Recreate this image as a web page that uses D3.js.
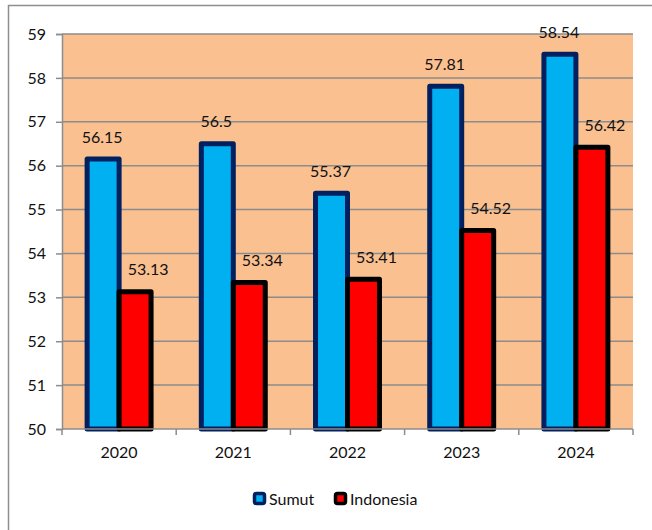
<!DOCTYPE html>
<html>
<head>
<meta charset="utf-8">
<script src="https://cdn.jsdelivr.net/npm/d3@7"></script>
<style>
  body { margin: 0; background: #fff; }
  svg { display: block; font-family: Lato, "Open Sans", sans-serif; }
</style>
</head>
<body>
<svg id="chart" width="652" height="530"></svg>
<script>
// data
var years = ["2020", "2021", "2022", "2023", "2024"];
var sumut = [56.15, 56.5, 55.37, 57.81, 58.54];
var indonesia = [53.13, 53.34, 53.41, 54.52, 56.42];
var seriesNames = ["Sumut", "Indonesia"];
var yTicks = [50, 51, 52, 53, 54, 55, 56, 57, 58, 59];

var fills = {Sumut: "#00b0f0", Indonesia: "#ff0000"};
var strokes = {Sumut: "#002060", Indonesia: "#000000"};
var labelDx = {Sumut: -1, Indonesia: 13};

var svg = d3.select("#chart");
var margin = {top: 34, left: 62, right: 19, bottom: 101};
var width = 652 - margin.left - margin.right;
var height = 530 - margin.top - margin.bottom;

// outer chart frame (runs off the right/bottom of the picture)
svg.append("rect")
  .attr("x", 8.5).attr("y", 5.5)
  .attr("width", 700).attr("height", 600)
  .attr("fill", "none")
  .attr("stroke", "#8e8e8e")
  .attr("stroke-width", 1.5);

var g = svg.append("g")
  .attr("transform", "translate(" + margin.left + "," + margin.top + ")");

var x = d3.scaleBand().domain(years).range([0, width]);
var x1 = d3.scaleBand().domain(seriesNames)
  .range([x.bandwidth() * 0.22, x.bandwidth() * 0.78]);
var y = d3.scaleLinear().domain([50, 59]).range([height, 0]);

g.append("rect")
  .attr("width", width)
  .attr("height", height)
  .attr("fill", "#fac090");

// gridlines + y axis
var yAxis = g.append("g")
  .call(d3.axisLeft(y).tickValues(yTicks).tickSize(6).tickFormat(d3.format("d")));
yAxis.select(".domain").attr("stroke", "#8c8c8c").attr("stroke-width", 1.5);
yAxis.selectAll(".tick line").attr("stroke", "#8c8c8c").attr("stroke-width", 1.5);
yAxis.selectAll(".tick text")
  .attr("x", -16)
  .attr("fill", "#111")
  .style("font-size", "16px")
  .style("font-family", "Lato, sans-serif");

g.selectAll(".grid")
  .data(yTicks.slice(1))
  .enter().append("line")
  .attr("x1", 0).attr("x2", width)
  .attr("y1", function(d) { return y(d); })
  .attr("y2", function(d) { return y(d); })
  .attr("stroke", "#8c8c8c")
  .attr("stroke-width", 1.5);

var table = years.map(function(yr, i) {
  return {year: yr, Sumut: sumut[i], Indonesia: indonesia[i]};
});

seriesNames.forEach(function(s) {
  g.selectAll(".bar-" + s)
    .data(table)
    .enter().append("rect")
    .attr("x", function(d) { return x(d.year) + x1(s); })
    .attr("y", function(d) { return y(d[s]); })
    .attr("width", x1.bandwidth())
    .attr("height", function(d) { return y(50) - y(d[s]); })
    .attr("fill", fills[s])
    .attr("stroke", strokes[s])
    .attr("stroke-width", 5)
    .attr("stroke-linejoin", "round");
});

// x axis (ticks at category boundaries)
var xAxisG = g.append("g").attr("transform", "translate(0," + height + ")");
xAxisG.append("line")
  .attr("x1", 0).attr("x2", width)
  .attr("stroke", "#8c8c8c").attr("stroke-width", 1.5);
xAxisG.selectAll(".xt")
  .data(years.concat(["end"]))
  .enter().append("line")
  .attr("x1", function(d, i) { return i < years.length ? x(d) : width; })
  .attr("x2", function(d, i) { return i < years.length ? x(d) : width; })
  .attr("y1", 0).attr("y2", 6)
  .attr("stroke", "#8c8c8c").attr("stroke-width", 1.5);
xAxisG.selectAll(".xl")
  .data(years)
  .enter().append("text")
  .attr("x", function(d) { return x(d) + x.bandwidth() / 2; })
  .attr("y", 29)
  .attr("text-anchor", "middle")
  .attr("fill", "#111")
  .style("font-size", "16px")
  .text(function(d) { return d; });

// value labels
seriesNames.forEach(function(s) {
  g.selectAll(".lbl-" + s)
    .data(table)
    .enter().append("text")
    .attr("x", function(d) { return x(d.year) + x1(s) + x1.bandwidth() / 2 + labelDx[s]; })
    .attr("y", function(d) { return y(d[s]) - 22; })
    .attr("dy", "0.35em")
    .attr("text-anchor", "middle")
    .attr("fill", "#111")
    .style("font-size", "16px")
    .text(function(d) { return d[s]; });
});

// legend
var legend = svg.append("g").attr("transform", "translate(253,492)");
var lx = [0, 81];
seriesNames.forEach(function(s, i) {
  var item = legend.append("g").attr("transform", "translate(" + lx[i] + ",0)");
  item.append("rect")
    .attr("x", 1.5).attr("y", 1.5)
    .attr("width", 10).attr("height", 10)
    .attr("rx", 2)
    .attr("fill", fills[s])
    .attr("stroke", strokes[s])
    .attr("stroke-width", 3.5);
  item.append("text")
    .attr("x", 16).attr("y", 7)
    .attr("dy", "0.35em")
    .attr("fill", "#111")
    .style("font-size", "16px")
    .text(s);
});
</script>
</body>
</html>
